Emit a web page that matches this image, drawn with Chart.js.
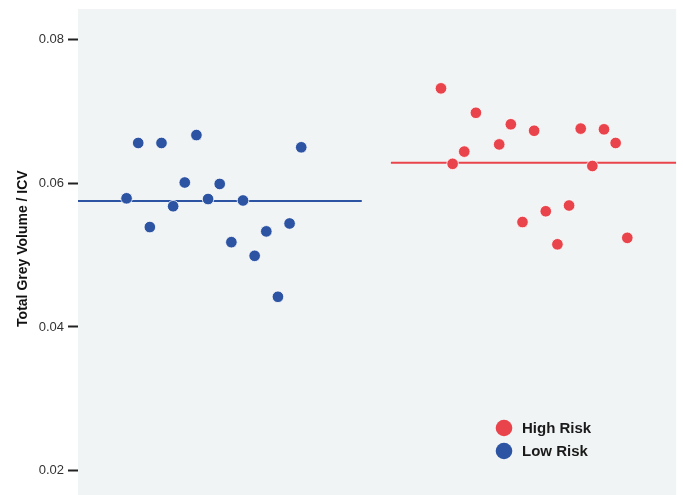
<!DOCTYPE html>
<html>
<head>
<meta charset="utf-8">
<script src="https://cdn.jsdelivr.net/npm/chart.js@4.4.1/dist/chart.umd.min.js"></script>
<style>
  html, body { margin: 0; padding: 0; background: #ffffff; }
  #wrap { width: 683px; height: 495px; }
</style>
</head>
<body>
<div id="wrap"><canvas id="c" width="683" height="495"></canvas></div>
<script>
// Jittered positions of subjects along the horizontal axis
const lowRiskX  = [1, 2, 3, 4, 5, 6, 7, 8, 9, 10, 11, 12, 13, 14, 15, 16];
const highRiskX = [28, 29, 30, 31, 33, 34, 35, 36, 37, 38, 39, 40, 41, 42, 43, 44];

// Total grey volume normalised by intracranial volume
const lowRiskValues  = [0.0579, 0.0656, 0.0539, 0.0656, 0.0568, 0.0601, 0.0667, 0.0578,
                        0.0599, 0.0518, 0.0576, 0.0499, 0.0533, 0.0442, 0.0544, 0.0650];
const highRiskValues = [0.0732, 0.0627, 0.0644, 0.0698, 0.0654, 0.0682, 0.0546, 0.0673,
                        0.0561, 0.0515, 0.0569, 0.0676, 0.0624, 0.0675, 0.0656, 0.0524];

// Horizontal extent of each group-mean line
const lowRiskMeanSpan  = [-3.2, 21.2];
const highRiskMeanSpan = [23.7, 48.2];

const yTickValues = [0.02, 0.04, 0.06, 0.08];
const groupLabels = ['High Risk', 'Low Risk'];

const RED = '#e9434b';
const BLUE = '#2c54a3';

const mean = arr => arr.reduce((a, b) => a + b, 0) / arr.length;
const pts = (xs, ys) => xs.map((x, i) => ({ x: x, y: ys[i] }));
const meanLine = (span, m) => span.map(x => ({ x: x, y: m }));

// Light grey panel behind the plot, running to the bottom of the canvas
const plotBackground = {
  id: 'plotBackground',
  beforeDraw(chart) {
    const { ctx, chartArea: a } = chart;
    ctx.save();
    ctx.fillStyle = '#f1f4f5';
    ctx.fillRect(a.left, a.top, a.right - a.left, chart.height - a.top);
    ctx.restore();
  }
};

// Group key in the lower right of the panel
const groupLegend = {
  id: 'groupLegend',
  afterDraw(chart) {
    const { ctx } = chart;
    const entries = [
      { label: groupLabels[0], color: RED },
      { label: groupLabels[1], color: BLUE }
    ];
    ctx.save();
    ctx.font = 'bold 15px "Liberation Sans", Arial, sans-serif';
    ctx.textBaseline = 'middle';
    entries.forEach((e, i) => {
      const cy = 428 + i * 23;
      ctx.beginPath();
      ctx.arc(504, cy, 8.3, 0, Math.PI * 2);
      ctx.fillStyle = e.color;
      ctx.fill();
      ctx.fillStyle = '#1a1a1a';
      ctx.fillText(e.label, 522, cy + 1);
    });
    ctx.restore();
  }
};

new Chart(document.getElementById('c'), {
  type: 'scatter',
  data: {
    datasets: [
      {
        label: 'Low Risk',
        data: pts(lowRiskX, lowRiskValues),
        backgroundColor: BLUE,
        borderColor: 'rgba(255,255,255,0.8)',
        borderWidth: 1,
        pointRadius: 5.8
      },
      {
        label: 'High Risk',
        data: pts(highRiskX, highRiskValues),
        backgroundColor: RED,
        borderColor: 'rgba(255,255,255,0.8)',
        borderWidth: 1,
        pointRadius: 5.8
      },
      {
        type: 'line',
        label: 'Low Risk mean',
        data: meanLine(lowRiskMeanSpan, mean(lowRiskValues)),
        borderColor: BLUE,
        borderWidth: 2,
        pointRadius: 0,
        order: 5
      },
      {
        type: 'line',
        label: 'High Risk mean',
        data: meanLine(highRiskMeanSpan, mean(highRiskValues)),
        borderColor: RED,
        borderWidth: 2,
        pointRadius: 0,
        order: 5
      }
    ]
  },
  options: {
    responsive: false,
    animation: false,
    layout: { padding: { left: 0, top: 9, right: 5, bottom: 1 } },
    plugins: {
      legend: { display: false },
      tooltip: { enabled: false }
    },
    scales: {
      x: {
        type: 'linear',
        display: false,
        min: -3.17,
        max: 48.2
      },
      y: {
        type: 'linear',
        min: 0.01757,
        max: 0.08424,
        afterBuildTicks(scale) {
          scale.ticks = yTickValues.map(v => ({ value: v }));
        },
        afterFit(scale) {
          scale.width = 78;
          scale.paddingTop = 0;
          scale.paddingBottom = 0;
        },
        border: { display: false },
        grid: {
          drawOnChartArea: false,
          drawTicks: true,
          tickLength: 10,
          tickWidth: 2,
          tickColor: '#222'
        },
        ticks: {
          padding: 4,
          color: '#333',
          font: { family: '"Liberation Sans", Arial, sans-serif', size: 13 },
          callback: v => v.toFixed(2)
        },
        title: {
          display: true,
          text: 'Total Grey Volume / ICV',
          color: '#111',
          font: { family: '"Liberation Sans", Arial, sans-serif', size: 14, weight: 'bold' },
          padding: { top: 15, bottom: 0 }
        }
      }
    }
  },
  plugins: [plotBackground, groupLegend]
});
</script>
</body>
</html>
